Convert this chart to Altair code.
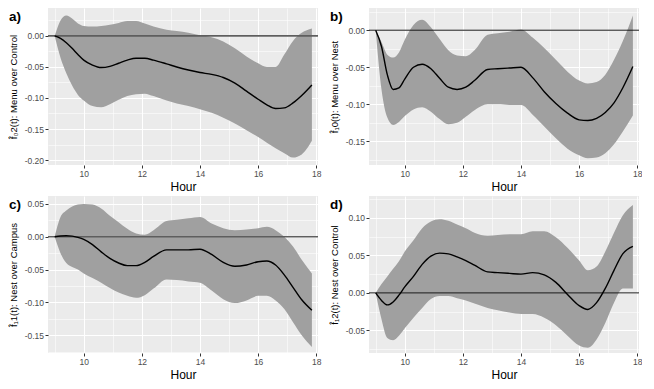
import altair as alt
import pandas as pd

FONT = "Liberation Sans"

hours = [9.0, 9.2, 9.4, 9.6, 9.8, 10.0, 10.3, 10.6, 10.9, 11.2, 11.5, 11.8, 12.1, 12.4,
         12.85, 13.2, 13.6, 14.0, 14.4, 14.8, 15.2, 15.6, 16.0, 16.3, 16.6, 16.9, 17.2, 17.5, 17.85]

# Panel a) Menu over Control
a_mean = [0.0, -0.004, -0.011, -0.020, -0.030, -0.039, -0.047, -0.051, -0.049, -0.044, -0.039, -0.036,
          -0.036, -0.039, -0.045, -0.050, -0.055, -0.059, -0.062, -0.067, -0.076, -0.089, -0.102, -0.111,
          -0.117, -0.116, -0.108, -0.096, -0.079]
a_hi = [0.0, 0.025, 0.033, 0.028, 0.020, 0.016, 0.015, 0.016, 0.018, 0.021, 0.024, 0.024, 0.020, 0.015,
        0.010, 0.008, 0.005, 0.001, -0.002, -0.009, -0.020, -0.033, -0.044, -0.050, -0.050, -0.030,
        -0.008, 0.005, 0.012]
a_lo = [0.0, -0.035, -0.060, -0.080, -0.095, -0.104, -0.113, -0.115, -0.110, -0.103, -0.097, -0.094,
        -0.093, -0.097, -0.104, -0.109, -0.113, -0.118, -0.124, -0.132, -0.141, -0.152, -0.163, -0.172,
        -0.181, -0.189, -0.196, -0.191, -0.169]

# Panel b) Menu over Nest
b_mean = [0.0, -0.022, -0.060, -0.080, -0.078, -0.066, -0.050, -0.046, -0.052, -0.065, -0.077, -0.080,
          -0.077, -0.068, -0.053, -0.052, -0.051, -0.050, -0.064, -0.083, -0.099, -0.112, -0.121, -0.122,
          -0.119, -0.111, -0.098, -0.078, -0.049]
b_hi = [0.0, -0.016, -0.033, -0.037, -0.030, -0.013, 0.007, 0.014, 0.004, -0.012, -0.027, -0.034,
        -0.035, -0.027, -0.006, -0.004, -0.002, 0.001, -0.010, -0.024, -0.040, -0.056, -0.068, -0.072,
        -0.070, -0.060, -0.040, -0.015, 0.020]
b_lo = [0.0, -0.080, -0.118, -0.128, -0.124, -0.116, -0.107, -0.104, -0.110, -0.120, -0.127, -0.125,
        -0.117, -0.108, -0.100, -0.100, -0.101, -0.101, -0.114, -0.130, -0.146, -0.160, -0.169, -0.173,
        -0.172, -0.166, -0.154, -0.137, -0.115]

# Panel c) Nest over Campus
c_mean = [0.0, 0.001, 0.0015, 0.001, -0.001, -0.004, -0.012, -0.023, -0.033, -0.040, -0.044, -0.044,
          -0.039, -0.030, -0.020, -0.020, -0.020, -0.019, -0.027, -0.039, -0.045, -0.043, -0.038, -0.037,
          -0.043, -0.058, -0.077, -0.096, -0.112]
c_hi = [0.0, 0.030, 0.040, 0.046, 0.049, 0.050, 0.049, 0.043, 0.032, 0.022, 0.012, 0.005, 0.003, 0.010,
        0.024, 0.026, 0.028, 0.030, 0.020, 0.013, 0.010, 0.011, 0.013, 0.015, 0.010, 0.000, -0.015,
        -0.035, -0.056]
c_lo = [0.0, -0.025, -0.040, -0.046, -0.050, -0.056, -0.063, -0.070, -0.078, -0.085, -0.090, -0.093,
        -0.089, -0.079, -0.065, -0.066, -0.068, -0.070, -0.082, -0.095, -0.101, -0.097, -0.090, -0.090,
        -0.097, -0.110, -0.130, -0.150, -0.168]

# Panel d) Nest over Control
d_mean = [0.0, -0.010, -0.016, -0.012, -0.003, 0.008, 0.022, 0.038, 0.049, 0.053, 0.052, 0.048, 0.043,
          0.037, 0.028, 0.027, 0.026, 0.025, 0.027, 0.024, 0.014, -0.002, -0.017, -0.022, -0.013, 0.006,
          0.030, 0.052, 0.062]
d_hi = [0.0, 0.012, 0.022, 0.032, 0.042, 0.055, 0.070, 0.086, 0.095, 0.098, 0.096, 0.091, 0.086, 0.080,
        0.076, 0.077, 0.078, 0.078, 0.082, 0.082, 0.074, 0.060, 0.043, 0.030, 0.035, 0.055, 0.080, 0.103,
        0.117]
d_lo = [0.0, -0.035, -0.060, -0.063, -0.057, -0.047, -0.033, -0.020, -0.008, -0.004, -0.004, -0.007,
        -0.010, -0.014, -0.020, -0.023, -0.026, -0.028, -0.028, -0.033, -0.043, -0.057, -0.070, -0.073,
        -0.062, -0.040, -0.013, 0.006, 0.006]

x_ticks = [9, 10, 11, 12, 13, 14, 15, 16, 17, 18]
x_domain = [8.77, 18.06]

W, H = 270, 157

MINOR_Y = "abs(round(datum.value * 40)) % 2 == 1"
MINOR_X = "datum.value % 2 == 1"


def panel(tag, mean, lo, hi, ydom, yticks, ytitle, zero_color, zero_width):
    df = pd.DataFrame({"hour": hours, "mean": mean, "lo": lo, "hi": hi})
    xscale = alt.Scale(domain=x_domain, nice=False, zero=False)
    yscale = alt.Scale(domain=ydom, nice=False, zero=False)
    xaxis = alt.Axis(
        values=x_ticks,
        labelExpr="datum.value % 2 == 0 ? '' + datum.value : ''",
        gridWidth={"condition": {"test": MINOR_X, "value": 0.55}, "value": 1.1},
        tickOpacity={"condition": {"test": MINOR_X, "value": 0}, "value": 1},
        title="Hour",
    )
    yaxis = alt.Axis(
        values=yticks,
        labelExpr=MINOR_Y + " ? '' : (datum.value < 0 ? '-' : '') + format(abs(datum.value), '.2f')",
        gridWidth={"condition": {"test": MINOR_Y, "value": 0.55}, "value": 1.1},
        tickOpacity={"condition": {"test": MINOR_Y, "value": 0}, "value": 1},
        title=ytitle,
    )

    def X():
        return alt.X("hour:Q", scale=xscale, axis=xaxis)

    def Y(f):
        return alt.Y(f, type="quantitative", scale=yscale, axis=yaxis)

    band = alt.Chart(df).mark_area(color="#A0A0A0", opacity=1, interpolate="monotone").encode(
        x=X(), y=Y("lo"), y2="hi:Q")
    zero = alt.Chart(pd.DataFrame({"zero": [0.0]})).mark_rule(
        color=zero_color, strokeWidth=zero_width).encode(y=Y("zero"))
    line = alt.Chart(df).mark_line(color="black", strokeWidth=1.4, interpolate="monotone").encode(
        x=X(), y=Y("mean"))
    label = alt.Chart(pd.DataFrame({"t": [tag]})).mark_text(
        align="left", baseline="middle", fontSize=13.5, fontWeight="bold", font=FONT, color="black"
    ).encode(text="t:N", x=alt.value(-39), y=alt.value(9))
    return alt.layer(band, zero, line, label).properties(width=W, height=H)


pa = panel("a)", a_mean, a_lo, a_hi, [-0.208, 0.045],
           [-0.2, -0.175, -0.15, -0.125, -0.1, -0.075, -0.05, -0.025, 0.0, 0.025],
           "f\u0302\u20802(t): Menu over Control", "#5E5E5E", 1.6)
pb = panel("b)", b_mean, b_lo, b_hi, [-0.182, 0.030],
           [-0.175, -0.15, -0.125, -0.1, -0.075, -0.05, -0.025, 0.0, 0.025],
           "f\u0302\u20810(t): Menu over Nest", "#1A1A1A", 1.0)
pc = panel("c)", c_mean, c_lo, c_hi, [-0.177, 0.062],
           [-0.175, -0.15, -0.125, -0.1, -0.075, -0.05, -0.025, 0.0, 0.025, 0.05],
           "f\u0302\u20811(t): Nest over Campus", "#5E5E5E", 1.6)
pd_ = panel("d)", d_mean, d_lo, d_hi, [-0.080, 0.129],
            [-0.075, -0.05, -0.025, 0.0, 0.025, 0.05, 0.075, 0.1, 0.125],
            "f\u0302\u20812(t): Nest over Control", "#1A1A1A", 1.0)

chart = alt.concat(pa, pb, pc, pd_, columns=2, spacing={"row": 31, "column": 51}, bounds="flush").properties(
    padding=0
).configure_view(
    fill="#EBEBEB", stroke=None
).configure_axis(
    domain=False,
    gridColor="white",
    tickColor="#333333",
    tickWidth=1,
    tickSize=3,
    labelColor="#4D4D4D",
    labelFont=FONT,
    labelFontSize=8.5,
    labelPadding=1.5,
    titleFont=FONT,
    titleFontWeight="normal",
    titleColor="black",
).configure_axisX(
    titleFontSize=12, titlePadding=3
).configure_axisY(
    titleFontSize=9.5, titlePadding=6
)

chart.save("out.html", embed_options={"renderer": "svg", "actions": False})
